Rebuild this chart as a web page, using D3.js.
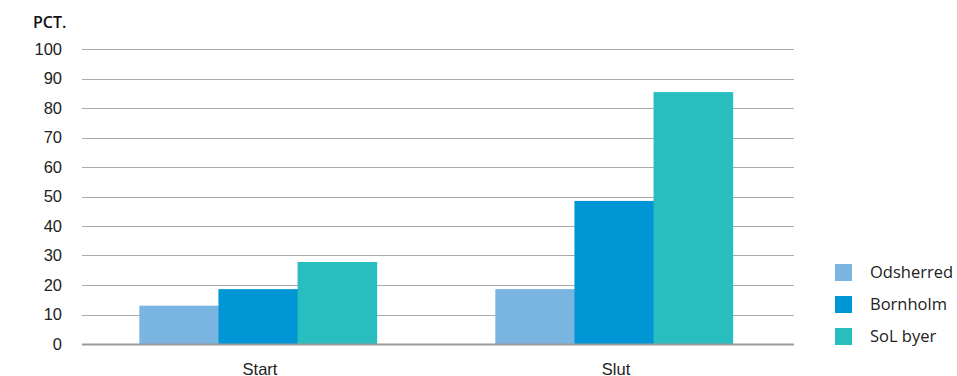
<!DOCTYPE html>
<html lang="da">
<head>
<meta charset="UTF-8">
<title>Pct.</title>
<style>
    body { margin: 0; background: #fff; }
    svg { display: block; font-family: "Open Sans", "Noto Sans", sans-serif; }
    .tick text { fill: #222; font-size: 16.5px; }
    .legend text { fill: #222; font-size: 16.5px; }
</style>
</head>
<body>
<svg class="chart"></svg>
<script src="https://cdn.jsdelivr.net/npm/d3@7"></script>
<script>

const categories = ["Start", "Slut"];
const seriesNames = ["Odsherred", "Bornholm", "SoL byer"];
const odsherred = [13, 18.6];
const bornholm = [18.6, 48.5];
const solByer = [27.8, 85.4];
const yTicks = [0, 10, 20, 30, 40, 50, 60, 70, 80, 90, 100];
const colors = ["#7ab5e2", "#0096d6", "#28bdbe"];

const seriesValues = [odsherred, bornholm, solByer];

const width = 957, height = 376;
const margin = { top: 49, right: 163, bottom: 32, left: 82 };

const svg = d3.select("svg")
    .attr("width", width)
    .attr("height", height);

const x0 = d3.scaleBand()
    .domain(categories)
    .range([margin.left, width - margin.right])
    .padding(0);

const x1 = d3.scaleBand()
    .domain(seriesNames)
    .range([-2, x0.bandwidth() - 2])
    .paddingInner(0)
    .paddingOuter(0.75);

const y = d3.scaleLinear()
    .domain([0, 100])
    .range([height - margin.bottom, margin.top]);

const color = d3.scaleOrdinal()
    .domain(seriesNames)
    .range(colors);

// grid lines
svg.append("g")
    .selectAll("line")
    .data(yTicks.slice(1))
    .join("line")
    .attr("x1", margin.left)
    .attr("x2", width - margin.right)
    .attr("y1", d => Math.round(y(d)) + 0.5)
    .attr("y2", d => Math.round(y(d)) + 0.5)
    .attr("stroke", "#aaa")
    .attr("stroke-width", 1);

// y axis labels
const yAxis = svg.append("g")
    .attr("transform", `translate(${margin.left - 20},0)`)
    .call(d3.axisLeft(y).tickValues(yTicks).tickSize(0).tickPadding(0));
yAxis.select(".domain").remove();

svg.append("text")
    .attr("x", 33)
    .attr("y", 28)
    .attr("font-size", 16)
    .attr("font-weight", 600)
    .attr("fill", "#111")
    .text("PCT.");

// bars
const rows = categories.map((c, i) => ({
    category: c,
    values: seriesNames.map((s, j) => ({ name: s, value: seriesValues[j][i] }))
}));

svg.append("g")
    .selectAll("g")
    .data(rows)
    .join("g")
    .attr("transform", d => `translate(${x0(d.category)},0)`)
    .selectAll("rect")
    .data(d => d.values)
    .join("rect")
    .attr("x", d => x1(d.name))
    .attr("width", x1.bandwidth() + 0.5)
    .attr("y", d => y(d.value))
    .attr("height", d => y(0) - y(d.value))
    .attr("fill", d => color(d.name));

// baseline
svg.append("line")
    .attr("x1", margin.left)
    .attr("x2", width - margin.right)
    .attr("y1", y(0) + 0.5)
    .attr("y2", y(0) + 0.5)
    .attr("stroke", "#999")
    .attr("stroke-width", 2);

// x axis labels
const xAxis = svg.append("g")
    .attr("transform", `translate(0,${y(0) + 13})`)
    .call(d3.axisBottom(x0).tickSize(0).tickPadding(6));
xAxis.select(".domain").remove();

// legend
const legend = svg.append("g")
    .attr("class", "legend")
    .attr("transform", "translate(835,264)")
    .selectAll("g")
    .data(seriesNames)
    .join("g")
    .attr("transform", (d, i) => `translate(0,${i * 32})`);

legend.append("rect")
    .attr("width", 17)
    .attr("height", 17)
    .attr("fill", d => color(d));

legend.append("text")
    .attr("x", 35)
    .attr("y", 8.5)
    .attr("dy", "0.35em")
    .text(d => d);

</script>
</body>
</html>
